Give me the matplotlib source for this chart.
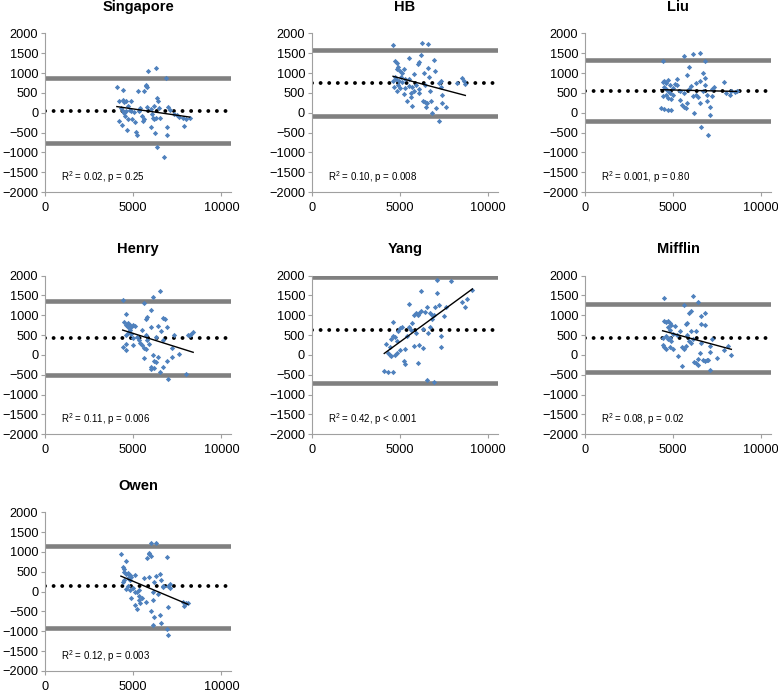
import matplotlib.pyplot as plt

plt.rcParams['font.family'] = ['Liberation Sans', 'DejaVu Sans']

names = ['Singapore', 'HB', 'Liu', 'Henry', 'Yang', 'Mifflin', 'Owen']

# mean difference and limits of agreement
means = [50, 760, 560, 430, 640, 430, 140]
upper = [870, 1590, 1320, 1370, 1955, 1290, 1160]
lower = [-760, -80, -200, -500, -700, -430, -910]

# regression line (intercept, slope)
intercepts = [416, 1460, 624, 1243, -1294, 1138, 1194]
slopes = [-0.064, -0.1176, -0.01, -0.14, 0.325, -0.12, -0.187]

labels = ['0.02, p = 0.25', '0.10, p = 0.008', '0.001, p = 0.80', '0.11, p = 0.006',
          '0.42, p < 0.001', '0.08, p = 0.02', '0.12, p = 0.003']

sing_x = [4070, 4420, 4200, 4400, 4600, 4850, 4500, 4700, 4300, 4400, 4450, 4500, 4600, 4800, 4900,
          4200, 4350, 4650, 4700, 4950, 5100, 5150, 5200, 5250, 5050, 5400, 5500, 5550, 5600, 5700,
          5750, 5800, 5850, 6270, 5800, 6000, 6050, 6100, 6150, 6200, 6250, 6350, 6400, 6450, 6500,
          6370, 6720, 6860, 6900, 6900, 7000, 7100, 7300, 7500, 7600, 7800, 7900, 8000, 8200, 5300,
          5600, 4550, 6000, 6300]
sing_y = [640, 580, 300, 320, 300, 290, 260, 180, 120, 50, 20, -10, 40, 80, 50,
          -200, -320, -440, -150, -160, -230, -480, -570, 550, 20, 120, -80, -200, 560, 680,
          700, 660, 1050, 1130, 140, 100, -20, -120, -170, 170, -500, 380, 300, 120, -120,
          -860, -1120, 870, -360, -570, 140, 70, -20, -60, -100, -140, -330, -170, -140, 50,
          -150, -80, -350, -130]

hb_x = [4600, 4700, 4850, 4800, 4900, 5000, 5100, 5200, 4700, 4750, 4650, 4800, 4900, 4950, 5050,
        5100, 5200, 5300, 5400, 5500, 5500, 5600, 5600, 5700, 5700, 5800, 5900, 6000, 6050, 6100,
        6200, 6250, 6300, 6400, 6400, 6450, 6500, 6600, 6600, 6650, 6700, 6750, 6800, 6900, 7000,
        7050, 7200, 7300, 7300, 7350, 7400, 7600, 8200, 8500, 8600, 8700, 5000, 5300, 5800, 6100,
        4600, 5500, 6350, 7200]
hb_y = [1720, 1300, 1250, 1100, 1150, 1050, 1000, 1100, 900, 850, 650, 560, 700, 800, 900,
        780, 470, 850, 300, 1380, 850, 500, 400, 180, 650, 980, 700, 1230, 1280, 600,
        1460, 1760, 300, 280, 700, 150, 250, 1730, 1130, 900, 540, 300, -10, 1320, 1060,
        120, -220, 800, 650, 450, 250, 150, 740, 880, 800, 720, 620, 630, 550, 500,
        800, 680, 1000, 760]

liu_x = [4400, 5600, 6100, 6500, 6800, 5900, 6700, 5800, 6800, 4400, 4500, 4600, 4700, 4800, 4500,
         4600, 4700, 4800, 4400, 4600, 4700, 4900, 5000, 5100, 5200, 5400, 5400, 5500, 5600, 5700,
         5800, 5900, 6000, 6200, 6300, 6300, 6400, 6500, 6500, 6600, 6700, 6800, 6900, 7100, 7100,
         7000, 7200, 7300, 7900, 8000, 8200, 8300, 8500, 8600, 4300, 4500, 4700, 4900, 5200, 5600,
         6100, 6900, 7200, 5000]
liu_y = [1300, 1420, 1470, 1510, 1300, 1150, 990, 960, 870, 780, 800, 760, 820, 700, 650,
         600, 560, 500, 420, 440, 380, 350, 460, 720, 850, 550, 330, 200, 150, 120,
         250, 600, 680, 0, 750, 450, 400, 800, 250, -350, 550, 700, 450, 150, -50,
         -550, 600, 650, 780, 500, 460, 540, 520, 560, 120, 90, 60, 80, 700, 500,
         420, 300, 420, 620]

henry_x = [4400, 5600, 6100, 6500, 6000, 5800, 5700, 6700, 6800, 6900, 6400, 4600, 4500, 4700, 4600,
           4800, 4700, 4900, 5000, 5100, 4800, 4900, 4600, 4700, 5000, 5200, 5300, 5400, 5500, 5600,
           5700, 5800, 5900, 5500, 5700, 6000, 6300, 6600, 6700, 4400, 4600, 5000, 5600, 6100, 6200,
           6300, 6000, 6000, 6200, 6400, 6500, 6700, 6900, 7000, 7200, 7300, 7600, 8000, 8100, 8200,
           8300, 8400, 4600, 7200]
henry_y = [1380, 1310, 1470, 1600, 1140, 950, 900, 930, 900, 700, 740, 1040, 820, 800, 750,
           760, 700, 700, 750, 730, 620, 520, 500, 550, 420, 450, 380, 300, 240, 180,
           150, 380, 280, 630, 500, 700, 450, 600, 380, 200, 120, 250, -80, 0, -150,
           -170, -300, -350, -330, -50, -430, -300, -150, -600, -50, 500, 30, -480, 510, 500,
           540, 580, 280, 180]

yang_x = [4100, 4300, 4600, 4200, 4300, 4400, 4500, 4700, 4400, 4500, 4600, 4700, 4800, 4600, 4900,
          5000, 5100, 5000, 5200, 5300, 5300, 5400, 5500, 5600, 5700, 5800, 5900, 5800, 5900, 6000,
          6100, 6200, 6000, 6100, 6200, 6300, 6300, 6500, 6500, 6700, 6700, 6800, 6600, 6900, 6900,
          7000, 7100, 7100, 7200, 7300, 7300, 7500, 7600, 7900, 8500, 8700, 8800, 9100, 6400, 5500,
          4800, 6800]
yang_y = [-400, -430, -420, 280, 40, 0, -30, 0, 200, 400, 480, 450, 350, 820, 600,
          680, 700, 120, -150, -230, 150, 480, 1290, 640, 800, 1000, 1050, 220, 550, 1000,
          1070, 1100, -200, 250, 1610, 170, 650, -620, 1200, 1050, 700, 900, 550, -680, 1000,
          1200, 1550, 1900, 1250, 200, 480, 980, 1220, 1870, 1330, 1200, 1400, 1650, 1090, 700,
          50, 1000]

mifflin_x = [4500, 5600, 6100, 6400, 6000, 5900, 6800, 6600, 6600, 6800, 5800, 5700, 4500, 4600, 4700,
             4800, 4700, 4900, 4800, 5100, 5000, 4600, 4700, 4800, 4900, 4400, 4400, 4500, 4600, 4800,
             5000, 5200, 5300, 5400, 5500, 5600, 5700, 5900, 5800, 6000, 6100, 6200, 6300, 6300, 6400,
             6500, 6600, 6700, 6800, 6900, 7000, 7100, 7100, 7100, 7200, 7500, 7900, 8100, 8300, 5500,
             6400, 6000]
mifflin_y = [1430, 1270, 1480, 1340, 1100, 1070, 1060, 970, 790, 760, 800, 770, 860, 830, 850,
             800, 700, 750, 620, 720, 520, 480, 400, 440, 350, 430, 240, 200, 160, 200,
             150, 500, -20, 600, 200, 160, 220, 350, 500, 300, 400, -180, -200, 600, -250,
             50, 300, -130, -140, -130, -120, -390, 80, 230, 400, -80, 120, 230, 10, -270,
             -100, 600]

owen_x = [4300, 4400, 4500, 4600, 4500, 4600, 4700, 4800, 4900, 5100, 4700, 4800, 4400, 4500, 4600,
          4800, 4900, 5000, 5100, 5200, 5300, 5100, 5200, 5300, 5400, 5500, 5700, 5800, 5900, 5900,
          6000, 5900, 6000, 6100, 6100, 6200, 6000, 6300, 6200, 6300, 6500, 6400, 6500, 6600, 6600,
          6700, 6700, 6900, 6900, 7000, 7000, 7000, 7100, 7100, 7800, 7900, 8000, 8100, 5600, 6100,
          4700, 5300]
owen_y = [950, 630, 560, 760, 500, 450, 480, 420, 380, 410, 350, 300, 250, 300, 70,
          50, -150, 100, 0, -20, 50, -350, -450, -220, -280, -150, -270, 850, 980, 950,
          900, 380, -480, -220, -850, -650, 1230, 1230, 230, 400, 450, -50, -580, -780, 300,
          150, 120, 880, -950, -1090, -400, 150, 200, 90, -260, -370, -280, -290, 350, -20,
          150, -120]

xs = [sing_x, hb_x, liu_x, henry_x, yang_x, mifflin_x, owen_x]
ys = [sing_y, hb_y, liu_y, henry_y, yang_y, mifflin_y, owen_y]

fig = plt.figure(figsize=(7.78, 6.96), dpi=100)

lefts = [0.058, 0.401, 0.752]
bottoms = [0.724, 0.376, 0.036]

for i in range(7):
    row, col = divmod(i, 3)
    ax = fig.add_axes([lefts[col], bottoms[row], 0.239, 0.228])

    ax.axhline(upper[i], color='#808080', lw=3.3, zorder=1)
    ax.axhline(lower[i], color='#808080', lw=3.3, zorder=1)
    ax.axhline(means[i], color='black', lw=2.8, linestyle=(0, (0.01, 2.2)),
               dash_capstyle='round', zorder=2)

    ax.plot(xs[i], ys[i], 'D', color='#4F81BD', markersize=2.7, mew=0, zorder=3)

    x0, x1 = min(xs[i]), max(xs[i])
    ax.plot([x0, x1], [intercepts[i] + slopes[i] * x0, intercepts[i] + slopes[i] * x1],
            color='black', lw=1, zorder=4)

    ax.text(900, -1620, r'$\mathregular{R^2}$ = ' + labels[i], fontsize=7, va='center')

    ax.set_xlim(0, 10550)
    ax.set_ylim(-2000, 2000)
    ax.set_xticks([0, 5000, 10000])
    ax.set_yticks(range(-2000, 2001, 500))
    ax.tick_params(labelsize=9.2, length=3, color='#a0a0a0', pad=2)
    ax.tick_params(axis='x', pad=4)
    for s in ['top', 'right']:
        ax.spines[s].set_visible(False)
    for s in ['left', 'bottom']:
        ax.spines[s].set_color('#a0a0a0')
    ax.set_title(names[i], fontsize=10.5, fontweight='bold', pad=16)

fig.savefig('out.png', dpi=100)
